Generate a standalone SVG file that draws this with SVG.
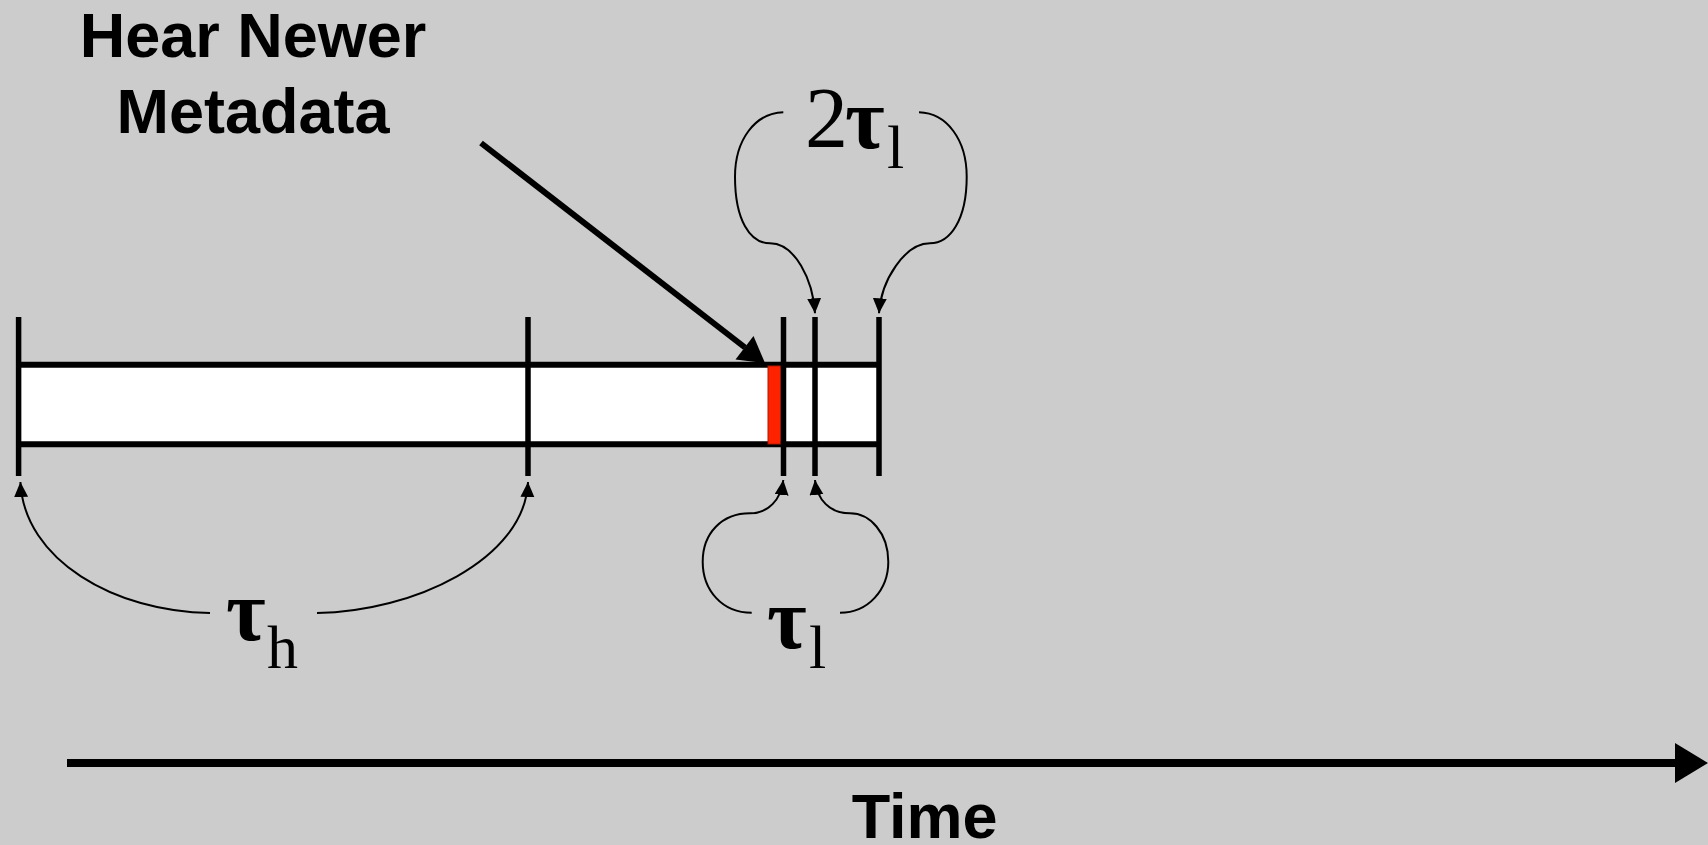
<svg xmlns="http://www.w3.org/2000/svg" width="1708" height="845" viewBox="0 0 1708 845">
<style>
.lbl{font-family:"Liberation Sans",Arial,sans-serif;font-weight:bold;font-size:63px;fill:#000}
.math{font-family:"Liberation Serif","DejaVu Serif",serif;fill:#000}
.tick{stroke:#000;stroke-width:5.5}
.bar{stroke:#000;stroke-width:6}
.thin{fill:none;stroke:#000;stroke-width:2}
</style>
<defs>
<marker id="sa" markerUnits="userSpaceOnUse" markerWidth="16" markerHeight="16" refX="15" refY="7" orient="auto">
<path d="M0,0 L15,7 L0,14 z" fill="#000"/>
</marker>
</defs>
<rect x="0" y="0" width="1708" height="845" fill="#cccccc"/>

<g id="timeline">
<rect x="18" y="364.5" width="861" height="79.5" fill="#fff"/>
<line class="bar" x1="18" y1="364.7" x2="879" y2="364.7"/>
<line class="bar" x1="18" y1="444.2" x2="879" y2="444.2"/>
<rect x="768" y="366" width="12.7" height="78" fill="#ff2200" stroke="#b01800" stroke-width="1"/>
<line class="tick" x1="18.6" y1="317" x2="18.6" y2="476"/>
<line class="tick" x1="528" y1="317" x2="528" y2="476"/>
<line class="tick" x1="783.5" y1="317" x2="783.5" y2="476"/>
<line class="tick" x1="815" y1="317" x2="815" y2="476"/>
<line class="tick" x1="879" y1="317" x2="879" y2="476"/>
</g>

<g id="label-hear">
<text class="lbl" text-anchor="middle" x="253" y="57">Hear Newer</text>
<text class="lbl" text-anchor="middle" x="253" y="133">Metadata</text>
</g>

<g id="label-2tl">
<text class="math" font-size="86" x="805" y="147">2</text>
<text class="math" font-size="86" font-weight="bold" x="845" y="148">τ</text>
<text class="math" font-size="62" x="887" y="168">l</text>
</g>

<g id="label-tl">
<text class="math" font-size="86" font-weight="bold" x="767" y="648">τ</text>
<text class="math" font-size="62" x="809" y="668">l</text>
</g>

<g id="label-th">
<text class="math" font-size="86" font-weight="bold" x="226" y="640">τ</text>
<text class="math" font-size="62" x="267" y="668">h</text>
</g>

<g id="label-time">
<text class="lbl" text-anchor="middle" x="924.6" y="838">Time</text>
</g>

<g id="connectors">
<line x1="481" y1="143" x2="745" y2="347.5" stroke="#000" stroke-width="6"/>
<polygon points="765,363 735.5,359.5 753.5,336" fill="#000"/>
<path class="thin" marker-end="url(#sa)" d="M210,613 C115,612 24,560 20.4,482"/>
<path class="thin" marker-end="url(#sa)" d="M317,613 C412,612 525,560 528,482"/>
<path class="thin" marker-end="url(#sa)" d="M751.7,612.7 C722,612.7 702.7,590 702.7,561.7 C702.7,533 722,513.3 750,513.3 C768,513.3 781,500 783.3,480"/>
<path class="thin" marker-end="url(#sa)" d="M840,612.7 C868,612.7 888.3,590 888.3,561.7 C888.3,533 870,513.3 850,513.3 C830,513.3 817,500 815,480"/>
<path class="thin" marker-end="url(#sa)" d="M783.3,112.3 C755,113 735,140 735,176.7 C735,220 750,243.3 770,243.3 C795,243.3 813,280 815,313.3"/>
<path class="thin" marker-end="url(#sa)" d="M919,112.3 C947,113 966.7,140 966.7,176.7 C966.7,220 950,243.3 930,243.3 C905,243.3 881,280 879,313.3"/>
<line x1="67" y1="763" x2="1676" y2="763" stroke="#000" stroke-width="8"/>
<polygon points="1675,743 1708,763 1675,783" fill="#000"/>
</g>
</svg>
